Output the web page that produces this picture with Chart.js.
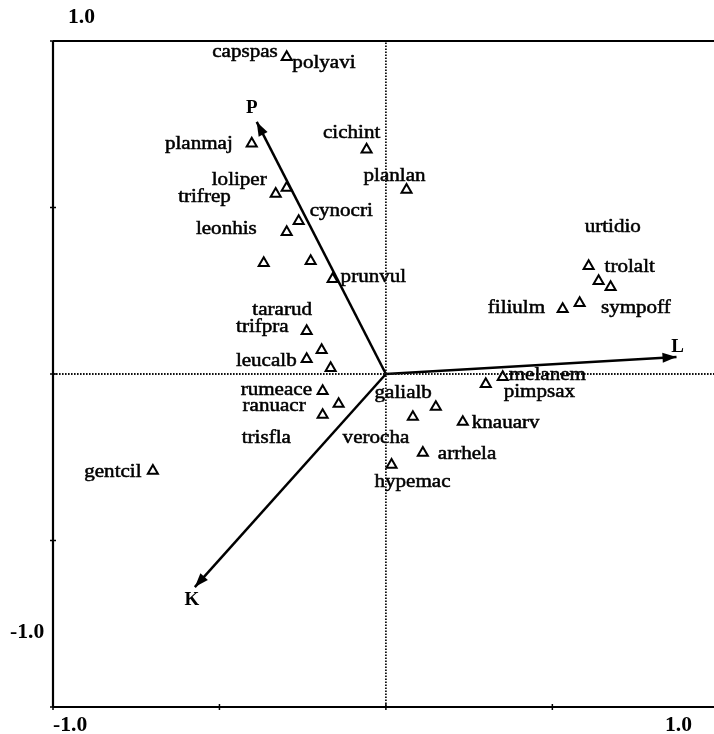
<!DOCTYPE html>
<html><head><meta charset="utf-8">
<script src="https://cdn.jsdelivr.net/npm/chart.js@4"></script>
<style>html,body{margin:0;padding:0;background:#fff;overflow:hidden}#wrap{width:714px;height:734px}</style>
</head><body><div id="wrap"><canvas id="c" width="714" height="734"></canvas></div>
<script>
// Site / species scores (triangles)
const siteX = [-0.298,-0.403,-0.058,0.062,-0.298,-0.331,-0.262,-0.298,-0.367,-0.226,-0.160,
  -0.238,-0.238,-0.193,-0.166,-0.190,-0.142,-0.190,-0.700,0.081,0.150,0.231,0.111,0.017,
  0.351,0.300,0.609,0.639,0.675,0.531,0.582];
const siteY = [0.952,0.692,0.674,0.553,0.559,0.541,0.459,0.426,0.333,0.339,0.285,
  0.129,0.045,0.072,0.018,-0.051,-0.090,-0.123,-0.291,-0.129,-0.099,-0.144,-0.237,-0.273,
  -0.009,-0.030,0.324,0.279,0.261,0.195,0.213];
// Species names and where they are written (data units)
const speciesNames = ['capspas','polyavi','planmaj','cichint','planlan','loliper','trifrep','cynocri',
  'leonhis','prunvul','tararud','trifpra','leucalb','rumeace','ranuacr','trisfla','gentcil','galialb',
  'verocha','hypemac','arrhela','knauarv','melanem','pimpsax','urtidio','trolalt','filiulm','sympoff'];
const nameX = [-0.325,-0.281,-0.460,-0.103,0.026,-0.358,-0.466,-0.229,-0.388,-0.136,-0.222,-0.292,
  -0.268,-0.222,-0.241,-0.433,-0.734,-0.034,-0.130,0.080,0.156,0.258,0.369,0.354,0.597,0.657,0.306,0.646];
const nameY = [0.967,0.934,0.691,0.724,0.595,0.583,0.532,0.489,0.435,0.291,0.192,0.141,0.039,-0.048,
  -0.096,-0.192,-0.294,-0.057,-0.192,-0.324,-0.240,-0.147,-0.003,-0.054,0.441,0.321,0.198,0.198];
const nameSide = ['R','L','R','C','C','R','R','L','R','L','R','R','R','R','R','L','R','L','L','C','L','L','L','L','L','L','L','L'];
// Environmental variables (arrows)
const envNames = ['P','L','K'];
const envX = [-0.388,0.873,-0.574];
const envY = [0.757,0.051,-0.640];
const envLabelX = [-0.403,0.876,-0.583];
const envLabelY = [0.799,0.081,-0.679];
// Axis
const axisTicks = [-1,-0.5,0,0.5,1];
const xMin = -1, xMax = 0.9856, yMin = -1, yMax = 1;

const SERIF = '"Liberation Serif","DejaVu Serif",serif';
function txt(ctx, s, x, y, align, font, sx, thick){
  ctx.save();
  ctx.translate(x, y);
  ctx.scale(sx, 1);
  ctx.font = font;
  ctx.fillStyle = '#000';
  ctx.strokeStyle = '#000';
  ctx.textAlign = align;
  ctx.textBaseline = 'middle';
  ctx.fillText(s, 0, 0);
  if (thick) { ctx.lineWidth = thick; ctx.strokeText(s, 0, 0); }
  ctx.restore();
}

const overlay = {
  id: 'overlay',
  afterDatasetsDraw(chart){
    const ctx = chart.ctx, xs = chart.scales.x, ys = chart.scales.y;
    ctx.save();
    ctx.fillStyle = '#000';
    for (let i = 0; i < envNames.length; i++){
      const x0 = xs.getPixelForValue(0), y0 = ys.getPixelForValue(0);
      const x1 = xs.getPixelForValue(envX[i]), y1 = ys.getPixelForValue(envY[i]);
      const a = Math.atan2(y1 - y0, x1 - x0);
      const L = 14, W = 5;
      ctx.beginPath();
      ctx.moveTo(x1, y1);
      ctx.lineTo(x1 - L*Math.cos(a) + W*Math.sin(a), y1 - L*Math.sin(a) - W*Math.cos(a));
      ctx.lineTo(x1 - L*Math.cos(a) - W*Math.sin(a), y1 - L*Math.sin(a) + W*Math.cos(a));
      ctx.closePath();
      ctx.fill();
      txt(ctx, envNames[i], xs.getPixelForValue(envLabelX[i]), ys.getPixelForValue(envLabelY[i]),
        'center', 'bold 19px ' + SERIF, 1, 0);
    }
    ctx.restore();
    for (let i = 0; i < speciesNames.length; i++){
      const al = nameSide[i] === 'R' ? 'right' : nameSide[i] === 'L' ? 'left' : 'center';
      txt(ctx, speciesNames[i], xs.getPixelForValue(nameX[i]), ys.getPixelForValue(nameY[i]),
        al, '18px ' + SERIF, 1.17, 0.5);
    }
  },
  afterDraw(chart){
    const ctx = chart.ctx, a = chart.chartArea, xs = chart.scales.x, ys = chart.scales.y;
    ctx.save();
    ctx.strokeStyle = '#000';
    ctx.lineWidth = 2.2;
    ctx.beginPath();
    ctx.moveTo(a.left, a.top); ctx.lineTo(a.right, a.top);
    ctx.moveTo(a.left, a.bottom); ctx.lineTo(a.right, a.bottom);
    ctx.moveTo(a.left, a.top); ctx.lineTo(a.left, a.bottom);
    ctx.stroke();
    ctx.lineWidth = 1.5;
    ctx.beginPath();
    axisTicks.forEach(v => {
      const py = ys.getPixelForValue(v);
      ctx.moveTo(a.left - 3, py); ctx.lineTo(a.left + 3, py);
      const px = xs.getPixelForValue(v);
      if (px <= a.right) { ctx.moveTo(px, a.bottom - 3); ctx.lineTo(px, a.bottom + 3); }
    });
    ctx.stroke();
    ctx.restore();
    const f = 'bold 20px ' + SERIF;
    txt(ctx, '1.0', a.left + 15, 18, 'left', f, 1.08, 0);
    txt(ctx, '-1.0', a.left - 43, 633, 'left', f, 1.08, 0);
    txt(ctx, '-1.0', a.left, 726, 'left', f, 1.08, 0);
    txt(ctx, '1.0', 665, 726, 'left', f, 1.08, 0);
  }
};

const sitePts = siteX.map((x, i) => ({x, y: siteY[i]}));
const datasets = [
  {data:[{x:xMin,y:0},{x:xMax,y:0}], showLine:true, borderColor:'#111', borderWidth:1.8, borderDash:[1.6,1.4], pointRadius:0},
  {data:[{x:0,y:yMin},{x:0,y:yMax}], showLine:true, borderColor:'#111', borderWidth:1.8, borderDash:[1.6,1.4], pointRadius:0}
];
envNames.forEach((n, i) => datasets.push({
  label:n, data:[{x:0,y:0},{x:envX[i],y:envY[i]}], showLine:true, borderColor:'#000', borderWidth:2.5, pointRadius:0
}));
datasets.push({label:'sites', data:sitePts, pointStyle:'triangle', pointRadius:5.8, pointBorderWidth:2,
  pointBackgroundColor:'#fff', pointBorderColor:'#000', showLine:false});

new Chart(document.getElementById('c'), {
  type:'scatter',
  data:{datasets},
  options:{
    responsive:false, devicePixelRatio:1, animation:false,
    layout:{autoPadding:false, padding:{left:53, top:41, right:0, bottom:27}},
    plugins:{legend:{display:false}, tooltip:{enabled:false}},
    scales:{
      x:{type:'linear', min:xMin, max:xMax, display:false},
      y:{type:'linear', min:yMin, max:yMax, display:false}
    }
  },
  plugins:[overlay]
});
</script></body></html>
